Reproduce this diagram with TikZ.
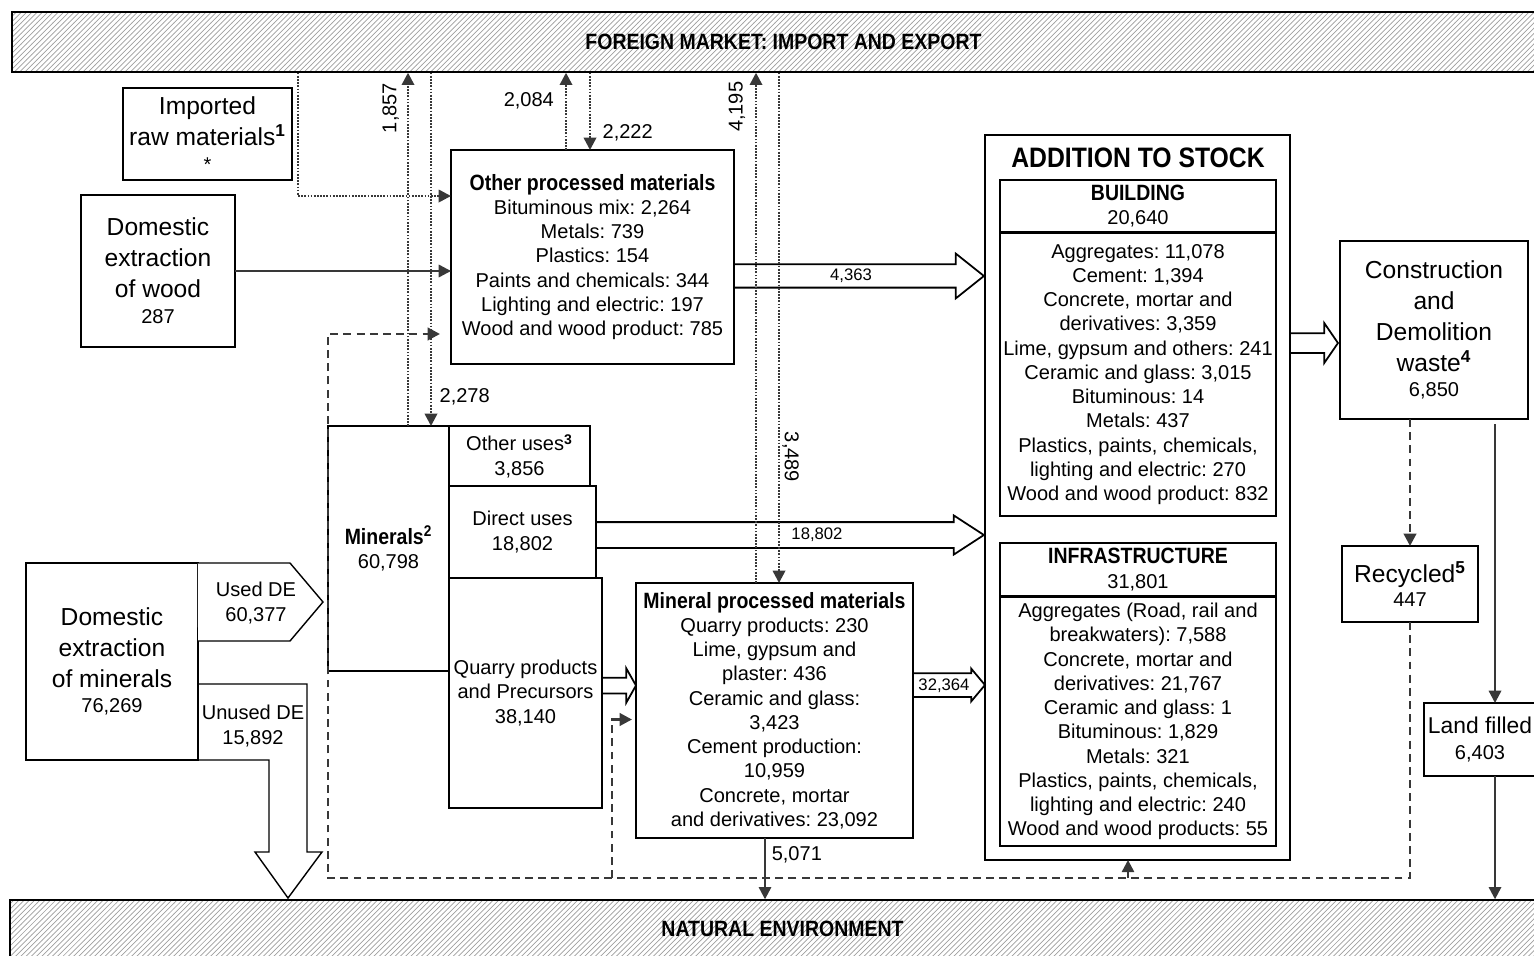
\documentclass[tikz,border=0pt]{standalone}
\usepackage{fontspec}
\setmainfont{Liberation Sans}
\newfontfamily\condfont[FakeStretch=0.88]{Liberation Sans}
\usetikzlibrary{shapes.arrows, arrows.meta, patterns, positioning}
\frenchspacing

\definecolor{linegray}{gray}{0.22}
\definecolor{hatchgray}{gray}{0.62}

\newcommand{\bodyfont}{\fontsize{11.4}{13.8}\selectfont}
\newcommand{\bigfont}{\fontsize{14}{17.6}\selectfont}
\newcommand{\smallfont}{\fontsize{9.5}{11}\selectfont}
\newcommand{\headfont}{\condfont\bfseries\fontsize{12.6}{13.8}\selectfont}
\newcommand{\fnote}[1]{\textsuperscript{\textbf{#1}}}

\tikzset{
  box/.style={draw, rectangle, thick, inner sep=0pt, outer sep=0pt, align=center, font=\bodyfont},
  bigbox/.style={box, font=\bigfont},
  bar/.style={draw, thick, rectangle, inner sep=0pt, pattern=north east lines, pattern color=hatchgray, font=\headfont},
  fatarrow/.style={draw, line width=1pt, fill=white, single arrow, anchor=tail, inner xsep=0pt, outer sep=0pt},
  dotline/.style={draw=linegray, line width=1.4pt, dash pattern=on 1pt off 0.8pt},
  dashline/.style={draw=linegray, line width=1.6pt, dash pattern=on 4.5pt off 3pt},
  solidline/.style={draw=linegray, line width=1.3pt},
  arr/.style={-{Triangle[length=7pt,width=7pt]}},
  lbl/.style={font=\bodyfont, inner sep=0pt, align=center},
  arrlbl/.style={font=\smallfont, inner sep=0pt}
}

\begin{document}
\begin{tikzpicture}[x=0.02cm, y=-0.02cm]
    \useasboundingbox (0,0) rectangle (1534,956);

    % Outside world
    \node[bar, minimum width=30.86cm, minimum height=1.2cm] (fmarket) at (783.5,42) {FOREIGN MARKET: IMPORT AND EXPORT};
    \node[bar, minimum width=30.9cm, minimum height=1.16cm] (natenv) at (782.5,929) {NATURAL ENVIRONMENT};

    % Inputs
    \node[bigbox, minimum width=3.38cm, minimum height=1.84cm] (imported) at (207.5,134) {Imported\\raw materials\fnote{1}\\[-3pt]{\bodyfont *}};
    \node[bigbox, minimum width=3.08cm, minimum height=3.04cm] (woodext) at (158,271) {Domestic\\extraction\\of wood\\[-2.9pt]{\bodyfont 287}};
    \node[bigbox, minimum width=3.44cm, minimum height=3.94cm] (mineralsext) at (112,661.5) {Domestic\\extraction\\of minerals\\[-2.9pt]{\bodyfont 76,269}};

    % Used and unused extraction
    \draw[thick, fill=white] (mineralsext.north east) -- (290,563) -- (323,602) -- (290,641) -- (198,641);
    \node[lbl] (usedde) at (256,603) {Used DE\\60,377};
    \draw[thick] (198,684) -- (307,684) -- (307,852) -- (322,852) -- (288,898) -- (255,852) -- (269,852) -- (269,760) -- (mineralsext.south east);
    \node[lbl] (unusedde) at (253,726) {Unused DE\\15,892};

    % Minerals and their uses
    \node[box, minimum width=2.42cm, minimum height=4.9cm] (minerals) at (388.5,548.5) {{\headfont Minerals\fnote{2}}\\60,798};
    \node[box, minimum width=2.82cm, minimum height=1.2cm] (otheruses) at (519.5,456) {Other uses\fnote{3}\\3,856};
    \node[box, minimum width=2.94cm, minimum height=1.84cm] (directuses) at (522.5,532) {Direct uses\\18,802};
    \node[box, minimum width=3.06cm, minimum height=4.6cm] (quarry) at (525.5,693) {Quarry products\\and Precursors\\38,140};

    % Processed materials
    \node[box, minimum width=5.66cm, minimum height=4.28cm] (opm) at (592.5,257) {{\headfont Other processed materials}\\Bituminous mix: 2,264\\Metals: 739\\Plastics: 154\\Paints and chemicals: 344\\Lighting and electric: 197\\Wood and wood product: 785};
    \node[box, minimum width=5.54cm, minimum height=5.1cm] (mpm) at (774.5,710.5) {{\headfont Mineral processed materials}\\Quarry products: 230\\Lime, gypsum and\\plaster: 436\\Ceramic and glass:\\3,423\\Cement production:\\10,959\\Concrete, mortar\\and derivatives: 23,092};

    % Addition to stock
    \node[box, minimum width=6.1cm, minimum height=14.5cm] (stock) at (1137.5,497.5) {};
    \node[font=\condfont\bfseries\fontsize{16}{18}\selectfont, inner sep=0pt] (stocktitle) at (1138,158) {ADDITION TO STOCK};
    \node[box, minimum width=5.52cm, minimum height=1.04cm] (bhead) at (1138,206) {{\headfont BUILDING}\\20,640};
    \node[box, minimum width=5.52cm, minimum height=5.66cm] (bbody) at (1138,374.5) {Aggregates: 11,078\\Cement: 1,394\\Concrete, mortar and\\derivatives: 3,359\\Lime, gypsum and others: 241\\Ceramic and glass: 3,015\\Bituminous: 14\\Metals: 437\\Plastics, paints, chemicals,\\lighting and electric: 270\\Wood and wood product: 832};
    \node[box, minimum width=5.52cm, minimum height=1.06cm] (ihead) at (1138,569.5) {{\headfont INFRASTRUCTURE}\\31,801};
    \node[box, minimum width=5.52cm, minimum height=4.98cm] (ibody) at (1138,721.5) {Aggregates (Road, rail and\\breakwaters): 7,588\\Concrete, mortar and\\derivatives: 21,767\\Ceramic and glass: 1\\Bituminous: 1,829\\Metals: 321\\Plastics, paints, chemicals,\\lighting and electric: 240\\Wood and wood products: 55};

    % Waste
    \node[bigbox, minimum width=3.76cm, minimum height=3.56cm] (cdw) at (1434,330) {Construction\\and\\Demolition\\waste\fnote{4}\\[-3.5pt]{\bodyfont 6,850}};
    \node[bigbox, minimum width=2.72cm, minimum height=1.52cm] (recyc) at (1410,584) {Recycled\fnote{5}\\[-4pt]{\bodyfont 447}};
    \node[bigbox, font=\fontsize{13}{17.6}\selectfont, minimum width=2.24cm, minimum height=1.46cm] (landf) at (1480,739.5) {Land filled\\[-2.4pt]{\bodyfont 6,403}};

    % Wide flows
    \node[fatarrow, minimum height=5cm, inner ysep=0.215cm, single arrow head extend=0.215cm, single arrow tip angle=77] (ar4363) at ([yshift=-0.38cm]opm.east) {};
    \node[arrlbl] at (851,276) {4,363};
    \node[fatarrow, minimum height=7.76cm, inner ysep=0.24cm, single arrow head extend=0.134cm, single arrow tip angle=66] (ar18802) at ([yshift=-0.06cm]directuses.east) {};
    \node[arrlbl] at (817,535) {18,802};
    \node[fatarrow, minimum height=1.44cm, inner ysep=0.22cm, single arrow head extend=0.09cm, single arrow tip angle=100] (ar32364) at ([yshift=0.51cm]mpm.east) {};
    \node[arrlbl] at (944,686) {32,364};
    \node[fatarrow, minimum height=0.68cm, inner ysep=0.14cm, single arrow head extend=0.19cm, single arrow tip angle=121] (arquarry) at ([yshift=0.15cm]quarry.east) {};
    \node[fatarrow, minimum height=0.96cm, inner ysep=0.18cm, single arrow head extend=0.2cm, single arrow tip angle=111] (arwaste) at ([yshift=3.09cm]stock.east) {};

    % Lanes for the thin flows
    \coordinate (x298) at (298,0);
    \coordinate (x408) at (408,0);
    \coordinate (x431) at (431,0);
    \coordinate (x566) at (566,0);
    \coordinate (x590) at (590,0);
    \coordinate (x612) at (612,0);
    \coordinate (x756) at (756,0);
    \coordinate (x765) at (765,0);
    \coordinate (x779) at (779,0);
    \coordinate (x1128) at (1128,0);
    \coordinate (x1495) at (1495,0);
    \coordinate (loopcorner) at (328,878);

    % Imports and exports
    \draw[dotline, arr] (fmarket.south -| x298) |- ([yshift=1.22cm]opm.west);
    \draw[dotline, arr] (minerals.north -| x408) -- node[pos=0.9, rotate=90, above, lbl, inner sep=4.5pt] {1,857} (fmarket.south -| x408);
    \draw[dotline, arr] (fmarket.south -| x431) -- node[pos=0.918, right, lbl, inner sep=4.2pt] {2,278} (minerals.north -| x431);
    \draw[dotline, arr] (opm.north -| x566) -- node[pos=0.64, left, lbl, inner sep=6.2pt] {2,084} (fmarket.south -| x566);
    \draw[dotline, arr] (fmarket.south -| x590) -- node[pos=0.78, right, lbl, inner sep=6.5pt] {2,222} (opm.north -| x590);
    \draw[dotline, arr] (mpm.north -| x756) -- node[pos=0.933, rotate=90, above, lbl, inner sep=5.5pt] {4,195} (fmarket.south -| x756);
    \draw[dotline, arr] (fmarket.south -| x779) -- node[pos=0.753, rotate=-90, above, lbl, inner sep=1.2pt] {3,489} (mpm.north -| x779);

    % Domestic wood
    \draw[solidline, arr] (woodext.east) -- (woodext.east -| opm.west);

    % Outflows to the environment
    \draw[solidline, arr] (mpm.south -| x765) -- node[pos=0.27, right, lbl, inner sep=3.2pt] {5,071} (natenv.north -| x765);
    \draw[solidline, arr, shorten <=3pt] (cdw.south -| x1495) -- (landf.north -| x1495);
    \draw[solidline, arr] (landf.south -| x1495) -- (natenv.north -| x1495);

    % Recycling loop
    \draw[dashline, arr] (cdw.south -| recyc.north) -- (recyc.north);
    \draw[dashline, arr] (recyc.south) |- (loopcorner) |- ([xshift=-0.22cm, yshift=-1.54cm]opm.west);
    \draw[dashline, arr] (loopcorner -| x612) |- ([xshift=-0.08cm, yshift=-0.18cm]mpm.west);
    \draw[solidline, arr] (loopcorner -| x1128) -- (stock.south -| x1128);

\end{tikzpicture}
\end{document}
